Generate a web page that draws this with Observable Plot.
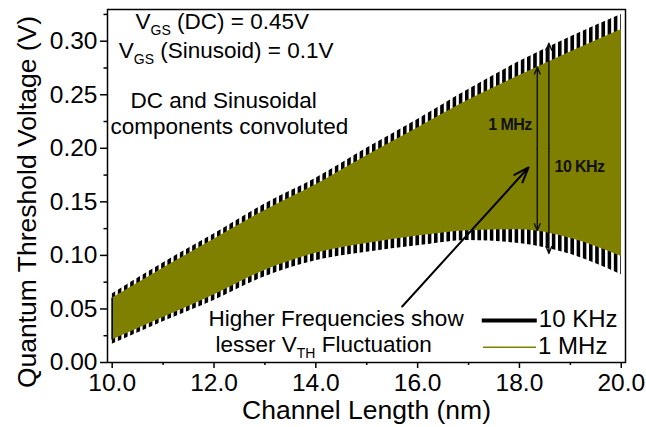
<!DOCTYPE html>
<html><head><meta charset="utf-8">
<script src="https://cdn.jsdelivr.net/npm/d3@7"></script>
<script src="https://cdn.jsdelivr.net/npm/@observablehq/plot@0.6"></script>
<style>
html,body{margin:0;padding:0;background:#fff;}
#chart svg{display:block;}
</style></head><body><div id="chart"></div>
<script>
// Channel length (nm) sample positions of the read envelopes
const channelLength = [10, 11, 12, 13, 14, 15, 16, 17, 18, 19, 20];
// 1 MHz Vth oscillation envelope (V)
const vth1MHzUpper = [0.060, 0.088, 0.115, 0.142, 0.166, 0.193, 0.219, 0.245, 0.268, 0.290, 0.311];
const vth1MHzLower = [0.021, 0.042, 0.063, 0.086, 0.102, 0.111, 0.118, 0.123, 0.124, 0.116, 0.099];
// 10 KHz Vth oscillation envelope (V)
const vth10KHzUpper = [0.064, 0.093, 0.120, 0.148, 0.172, 0.200, 0.227, 0.255, 0.281, 0.304, 0.325];
const vth10KHzLower = [0.017, 0.038, 0.058, 0.080, 0.095, 0.103, 0.109, 0.114, 0.111, 0.101, 0.082];
// ticks
const xMajorTicks = [10, 12, 14, 16, 18, 20];
const xMinorTicks = [11, 13, 15, 17, 19];
const yMajorTicks = [0, 0.05, 0.10, 0.15, 0.20, 0.25, 0.30];
const yMinorTicks = [0.025, 0.075, 0.125, 0.175, 0.225, 0.275, 0.325];
const seriesNames = ["10 KHz", "1 MHz"];

const band = channelLength.map((x, i) => ({
  x, mTop: vth1MHzUpper[i], mBot: vth1MHzLower[i], kTop: vth10KHzUpper[i], kBot: vth10KHzLower[i]
}));

const FONT = "'Liberation Sans', Arial, Helvetica, sans-serif";
const OLIVE = "#808000";

// annotation layout (data coordinates)
const notes = [
  {t: "V_{GS} (DC) = 0.45V", x: 10.458, y: 0.3116},
  {t: "V_{GS} (Sinusoid) = 0.1V", x: 10.130, y: 0.2845},
  {t: "DC and Sinusoidal", x: 10.360, y: 0.2378},
  {t: "components convoluted", x: 9.967, y: 0.2138},
  {t: "Higher Frequencies show", x: 11.892, y: 0.0345},
  {t: "lesser V_{TH} Fluctuation", x: 12.029, y: 0.0096}
];
const boldNotes = [
  {t: "1 MHz", x: 17.389, y: 0.2173},
  {t: "10 KHz", x: 18.690, y: 0.1777}
];
const arrow1MHz = {x: 18.350, top: 0.2757, bot: 0.1232};
const arrow10KHz = {x: 18.578, top: 0.2981, bot: 0.1018};
const vArrows = [arrow1MHz, arrow10KHz].flatMap(a => {
  const mid = (a.top + a.bot) / 2;
  return [{x1: a.x, y1: mid, x2: a.x, y2: a.top}, {x1: a.x, y1: mid, x2: a.x, y2: a.bot}];
});
const diagArrow = [{x1: 15.697, y1: 0.0523, x2: 18.179, y2: 0.1821}];
const legendRows = [
  {name: seriesNames[0], y: 0.0392, ty: 0.0330, x1: 17.269, x2: 18.350, stroke: "black", sw: 4},
  {name: seriesNames[1], y: 0.0143, ty: 0.0081, x1: 17.295, x2: 18.336, stroke: OLIVE, sw: 1.6}
];

const plot = Plot.plot({
  width: 646,
  height: 427,
  marginLeft: 107,
  marginRight: 21,
  marginTop: 9,
  marginBottom: 65,
  style: {fontFamily: FONT, fontSize: "24.5px", color: "black", background: "white"},
  x: {domain: [9.908, 20.083]},
  y: {domain: [0, 0.3296]},
  marks: [
    Plot.areaY(band, {x: "x", y1: "kBot", y2: "kTop", fill: "url(#teeth)", curve: "monotone-x"}),
    Plot.areaY(band, {x: "x", y1: "mBot", y2: "mTop", fill: OLIVE, curve: "monotone-x"}),
    Plot.ruleX([band[0]], {x: "x", y1: "mBot", y2: "mTop", stroke: "black", strokeWidth: 1.5}),
    Plot.frame({stroke: "black", strokeWidth: 1.5}),
    Plot.axisX(xMajorTicks, {tickSize: 6, tickPadding: 5, tickFormat: d3.format(".1f"), label: null, strokeWidth: 1.5}),
    Plot.axisX(xMinorTicks, {tickSize: 3, tickFormat: () => "", label: null, strokeWidth: 1.5}),
    Plot.axisY(yMajorTicks, {tickSize: 7, tickPadding: 3, tickFormat: d3.format(".2f"), label: null, strokeWidth: 1.5}),
    Plot.axisY(yMinorTicks, {tickSize: 3.5, tickFormat: () => "", label: null, strokeWidth: 1.5}),
    Plot.text(["Channel Length (nm)"], {frameAnchor: "bottom", textAnchor: "middle", dy: 56.3, lineAnchor: "bottom", fontSize: 26.5}),
    Plot.text(["Quantum Threshold Voltage (V)"], {frameAnchor: "left", textAnchor: "middle", rotate: -90, dx: -80, dy: 16, fontSize: 26.5}),
    Plot.arrow(vArrows, {x1: "x1", y1: "y1", x2: "x2", y2: "y2", stroke: "#111", strokeWidth: 1.4, headLength: 8, headAngle: 45}),
    Plot.arrow(diagArrow, {x1: "x1", y1: "y1", x2: "x2", y2: "y2", stroke: "black", strokeWidth: 2, headLength: 12, headAngle: 40}),
    Plot.text(notes, {x: "x", y: "y", text: "t", textAnchor: "start", lineAnchor: "bottom", fontSize: 22.5, fill: "black"}),
    Plot.text(boldNotes, {x: "x", y: "y", text: "t", textAnchor: "start", lineAnchor: "bottom", fontSize: 16, fontWeight: "bold", fill: "#111"}),
    Plot.ruleY(legendRows, {y: "y", x1: "x1", x2: "x2", stroke: "stroke", strokeWidth: "sw"}),
    Plot.text(legendRows, {x: d => d.x2 + 0.03, y: "ty", text: "name", textAnchor: "start", lineAnchor: "bottom", fontSize: 24, fill: "black"})
  ]
});

// striped pattern that gives the 10 KHz envelope its tooth texture
const svgSel = d3.select(plot.tagName === "svg" ? plot : plot.querySelector("svg"));
const defs = svgSel.insert("defs", ":first-child");
defs.append("pattern").attr("id", "teeth").attr("patternUnits", "userSpaceOnUse")
  .attr("width", 6.2).attr("height", 20)
  .append("rect").attr("x", 0).attr("y", 0).attr("width", 3.6).attr("height", 20).attr("fill", "black");

// subscripts: V_{GS}, V_{TH}
svgSel.selectAll("text").each(function() {
  const t = this.textContent;
  if (!t.includes("_{")) return;
  const parts = t.split(/(_\{[^}]*\})/).filter(p => p);
  const el = d3.select(this);
  el.text(null);
  let shifted = false;
  for (const p of parts) {
    if (p.startsWith("_{")) {
      el.append("tspan").attr("font-size", "14px").attr("dy", 6).text(p.slice(2, -1));
      shifted = true;
    } else {
      const ts = el.append("tspan").text(p);
      if (shifted) { ts.attr("dy", -6); shifted = false; }
    }
  }
});
// tighten bold inner labels
svgSel.selectAll("text").filter(function() { return this.getAttribute("font-weight") === "bold" || (this.parentNode && this.parentNode.getAttribute && this.parentNode.getAttribute("font-weight") === "bold"); })
  .attr("letter-spacing", "-0.6px");

document.getElementById("chart").appendChild(plot);
</script>
</body></html>
